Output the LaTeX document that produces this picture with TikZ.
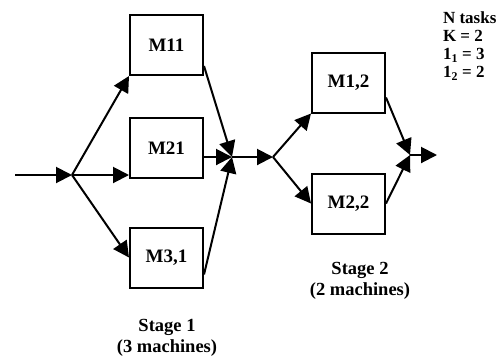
\documentclass[tikz,border=0pt]{standalone}
\usepackage{fontspec}
\setmainfont{Liberation Serif}
\usetikzlibrary{arrows.meta,calc}
\begin{document}
\begin{tikzpicture}[x=1bp,y=-1bp, line width=2bp,
  mbox/.style={draw, minimum width=73bp, minimum height=60bp, inner sep=0pt, font=\fontsize{19bp}{20bp}\selectfont\bfseries},
  arr/.style={-{Triangle[length=16bp,width=16bp]}},
  lbl/.style={font=\fontsize{18.5bp}{21bp}\selectfont\bfseries, align=center, inner sep=0pt}]
\useasboundingbox (0,0) rectangle (499,362);
\node[mbox] (M11) at (166.5,45) {M11};
\node[mbox] (M21) at (166.5,148) {M21};
\node[mbox] (M31) at (166.5,257.5) {M3,1};
\node[mbox] (M12) at (348.5,82.5) {M1,2};
\node[mbox] (M22) at (348.5,203.5) {M2,2};
\coordinate (in) at (15,175);
\coordinate (s1) at (72,175);
\coordinate (j1) at (232,157);
\coordinate (s2) at (273,157);
\coordinate (j2) at (410,155);
\coordinate (out) at (437,155);
\draw[arr] (in) -- (s1);
\draw[arr] (s1) -- (M11.south west);
\draw[arr] (s1) -- (s1 -| M21.west);
\draw[arr] (s1) -- (M31.west);
\draw[arr] ([yshift=10bp]M11.south east) -- (j1);
\draw[arr] (M21.east |- j1) -- (j1);
\draw[arr] ([yshift=-17bp]M31.east) -- (j1);
\draw[arr] (j1) -- (s2);
\draw[arr] (s2) -- (M12.south west);
\draw[arr] (s2) -- (M22.west);
\draw[arr] ([yshift=-15bp]M12.east) -- (j2);
\draw[arr] (M22.east) -- (j2);
\draw[arr] (j2) -- (out);
\node[anchor=north west, font=\fontsize{17bp}{18bp}\selectfont\bfseries, align=left, inner sep=0pt] (leg) at (442,11) {N tasks\\K = 2\\1\textsubscript{1} = 3\\1\textsubscript{2} = 2};
\node[lbl] (st1) at (167,338) {Stage 1\\(3 machines)};
\node[lbl] (st2) at (360,281) {Stage 2\\(2 machines)};
\end{tikzpicture}
\end{document}
